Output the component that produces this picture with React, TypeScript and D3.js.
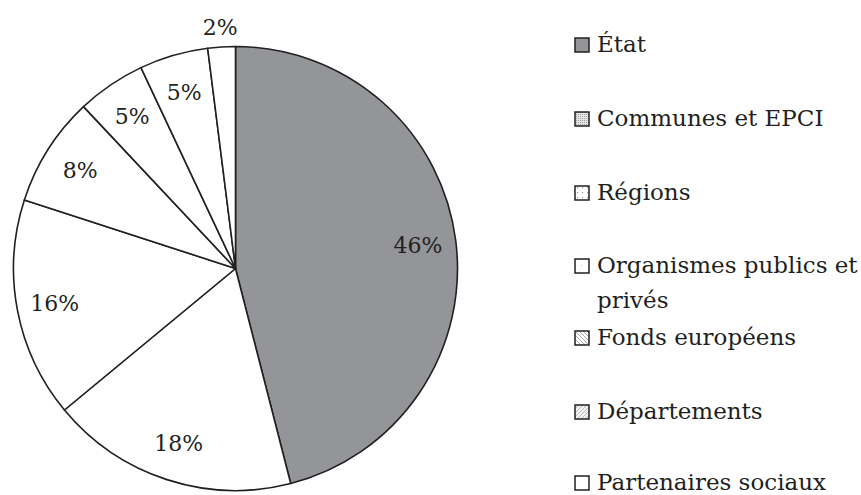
import React from 'react';
import * as d3 from 'd3';

const categories = [
  'État',
  'Communes et EPCI',
  'Régions',
  'Organismes publics et privés',
  'Fonds européens',
  'Départements',
  'Partenaires sociaux',
];
const shares = [46, 18, 16, 8, 5, 5, 2];
// legend rows: wrapped text lines per category
const legendLines = [
  ['État'],
  ['Communes et EPCI'],
  ['Régions'],
  ['Organismes publics et', 'privés'],
  ['Fonds européens'],
  ['Départements'],
  ['Partenaires sociaux'],
];
const legendBaselines = [52, 126, 200, 273, 345, 419, 490];
const legendFills = ['#939598', 'url(#p-dots)', 'url(#p-sparse)', 'url(#p-vsparse)', 'url(#p-back)', 'url(#p-fwd)', '#ffffff'];

const W = 861;
const H = 495;
const cx = 235.5;
const cy = 268.5;
const R = 222;
const ink = '#231f20';
const font = '"DejaVu Serif", serif';

export default function App() {
  const data = shares.map((v, i) => ({ name: categories[i], value: v }));
  const pie = d3.pie<{ name: string; value: number }>().sort(null).value(d => d.value);
  const arcs = pie(data);
  const arc = d3.arc<d3.PieArcDatum<{ name: string; value: number }>>().innerRadius(0).outerRadius(R);
  const labelArc = d3.arc<d3.PieArcDatum<{ name: string; value: number }>>().innerRadius(184).outerRadius(184);
  const outerLabelArc = d3.arc<d3.PieArcDatum<{ name: string; value: number }>>().innerRadius(242).outerRadius(242);

  return (
    <div style={{ position: 'absolute', left: 0, top: 0 }}>
      <svg width={W} height={H} style={{ display: 'block', background: '#fff' }}>
        <defs>
          <pattern id="p-dots" width="2" height="2" patternUnits="userSpaceOnUse">
            <rect width="2" height="2" fill="#e6e6e6" />
            <rect width="1" height="1" fill="#a0a0a0" />
          </pattern>
          <pattern id="p-sparse" width="5" height="5" patternUnits="userSpaceOnUse">
            <rect width="5" height="5" fill="#fff" />
            <rect x="2" y="2" width="1.2" height="1.2" fill="#999" />
          </pattern>
          <pattern id="p-vsparse" width="9" height="9" patternUnits="userSpaceOnUse">
            <rect width="9" height="9" fill="#fff" />
            <rect x="5" y="4" width="1" height="1" fill="#bbb" />
          </pattern>
          <pattern id="p-back" width="4" height="4" patternUnits="userSpaceOnUse">
            <rect width="4" height="4" fill="#fff" />
            <path d="M0,0 L4,4 M-1,3 L1,5 M3,-1 L5,1" stroke="#aaa" strokeWidth="1" />
          </pattern>
          <pattern id="p-fwd" width="4" height="4" patternUnits="userSpaceOnUse">
            <rect width="4" height="4" fill="#f2f2f2" />
            <path d="M0,4 L4,0 M-1,1 L1,-1 M3,5 L5,3" stroke="#bbb" strokeWidth="1" />
          </pattern>
        </defs>

        <g transform={`translate(${cx},${cy})`}>
          {arcs.map((a, i) => (
            <path key={i} d={arc(a) || ''} fill={i === 0 ? '#939598' : '#ffffff'} stroke={ink} strokeWidth={1.6} strokeLinejoin="round" />
          ))}
          {arcs.map((a, i) => {
            const [x, y] = a.data.value < 3 ? outerLabelArc.centroid(a) : labelArc.centroid(a);
            return (
              <text key={i} x={x} y={y} dy="0.35em" textAnchor="middle" fontFamily={font} fontSize={22} fill={ink}>
                {a.data.value}%
              </text>
            );
          })}
        </g>

        <g>
          {legendLines.map((lines, i) => {
            const base = legendBaselines[i];
            return (
              <g key={i}>
                <rect x={575} y={base - 14} width={14} height={14} fill={legendFills[i]} stroke={ink} strokeWidth={1.5} />
                {lines.map((t, j) => (
                  <text key={j} x={597} y={base + j * 35} fontFamily={font} fontSize={23} fill={ink}>
                    {t}
                  </text>
                ))}
              </g>
            );
          })}
        </g>
      </svg>
    </div>
  );
}
